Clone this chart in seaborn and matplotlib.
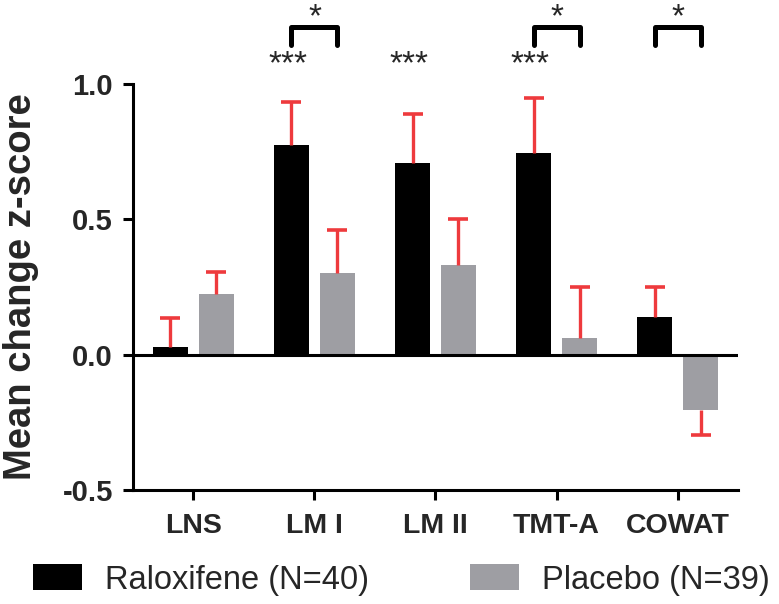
import seaborn as sns
from matplotlib import pyplot as plt
import pandas as pd

# values
tests = ['LNS', 'LM I', 'LM II', 'TMT-A', 'COWAT']
groups = ['Raloxifene (N=40)', 'Placebo (N=39)']
raloxifene = [0.03, 0.775, 0.71, 0.745, 0.14]
placebo = [0.225, 0.30, 0.33, 0.063, -0.203]
raloxifene_err = [0.105, 0.16, 0.18, 0.205, 0.11]
placebo_err = [0.08, 0.16, 0.17, 0.187, 0.092]
stars_within = ['', '***', '***', '***', '']
stars_between = ['', '*', '', '*', '*']
yticks = [-0.5, 0.0, 0.5, 1.0]
ytick_labels = ['-0.5', '0.0', '0.5', '1.0']

df = pd.DataFrame({
    'test': tests * 2,
    'group': [groups[0]] * len(tests) + [groups[1]] * len(tests),
    'z': raloxifene + placebo,
})

sns.set_style('ticks')
plt.rcParams['font.family'] = ['Liberation Sans', 'DejaVu Sans']

fig = plt.figure(figsize=(7.79, 6.04), dpi=100)
ax = fig.add_axes([0.1707, 0.1887, 0.7767, 0.6722])

sns.barplot(data=df, x='test', y='z', hue='group', order=tests, hue_order=groups,
            palette=['black', '#9e9ea3'], saturation=1, width=0.76, gap=0.24,
            errorbar=None, linewidth=0, ax=ax)

red = '#ee3a3d'
errs = raloxifene_err + placebo_err
centers = []
for bar, e in zip(ax.patches, errs):
    x = bar.get_x() + bar.get_width() / 2
    h = bar.get_y() + bar.get_height()
    centers.append(x)
    yerr = [[0], [e]] if h >= 0 else [[e], [0]]
    _, caps, _ = ax.errorbar([x], [h], yerr=yerr, fmt='none', ecolor=red,
                             elinewidth=2.4, capsize=7, capthick=2.6, zorder=3)
    # one-sided bar: hide the cap sitting on the bar end
    caps[0 if h >= 0 else 1].set_visible(False)

n = len(tests)
for i in range(n):
    xr, xp = centers[i], centers[i + n]
    if stars_within[i]:
        ax.text(xr - 0.03, 1.07, stars_within[i], ha='center', va='center',
                fontsize=24, clip_on=False)
    if stars_between[i]:
        ax.plot([xr, xr, xp, xp], [1.145, 1.212, 1.212, 1.145], color='black',
                lw=3.6, clip_on=False, solid_capstyle='round')
        ax.text((xr + xp) / 2, 1.245, stars_between[i], ha='center', va='center',
                fontsize=24, clip_on=False)

ax.axhline(0, color='black', lw=2.2, zorder=4)

ax.set_xlim(-0.5, 4.5)
ax.set_ylim(-0.5, 1.0)
ax.set_yticks(yticks)
ax.set_yticklabels(ytick_labels, fontsize=21, fontweight='bold')
ax.set_xticks(range(n))
ax.set_xticklabels(tests, fontsize=20.5, fontweight='bold')
ax.tick_params(axis='both', width=2.2, length=7.5, color='black')
ax.tick_params(axis='x', pad=9)
ax.tick_params(axis='y', pad=7)
ax.set_xlabel('')
ax.set_ylabel('Mean change z-score', fontsize=27.5, fontweight='bold')
ax.yaxis.set_label_coords(-0.155, 0.5)
sns.despine(ax=ax)
for s in ['left', 'bottom']:
    ax.spines[s].set_linewidth(2.2)
    ax.spines[s].set_color('black')

sns.move_legend(ax, 'center left', bbox_to_anchor=(0.042, 0.04),
                bbox_transform=fig.transFigure, ncol=2, frameon=False, title=None,
                fontsize=23.5, handlelength=1.5, handleheight=0.86,
                handletextpad=0.7, columnspacing=3.1, borderpad=0, borderaxespad=0)

fig.savefig('out.png', dpi=100)
